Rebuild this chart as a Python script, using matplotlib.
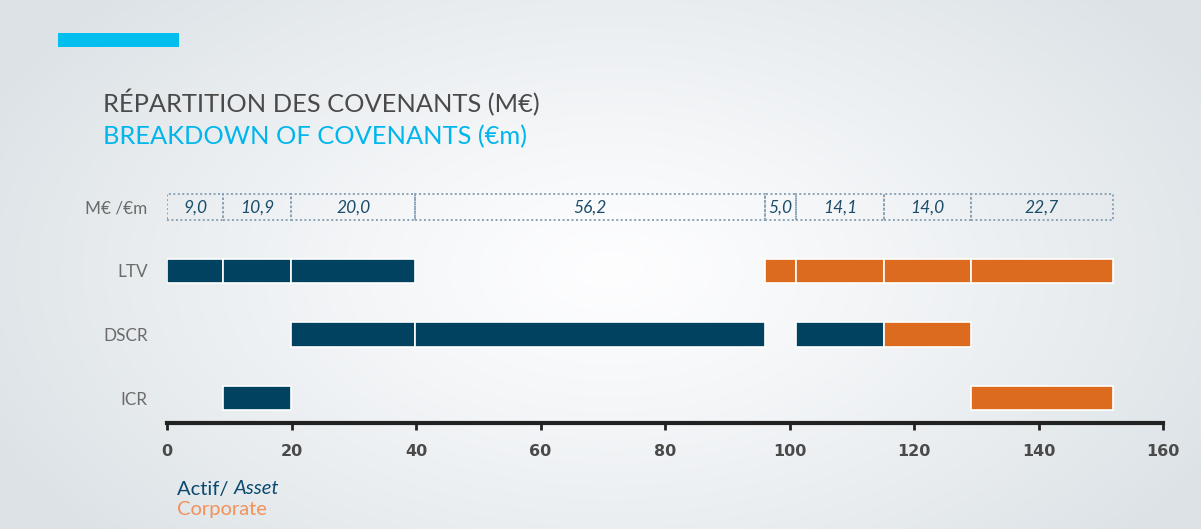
import matplotlib
matplotlib.use('Agg')
import matplotlib.pyplot as plt
import numpy as np

# segment sizes (M€) shown in the top dotted row
segments = [9.0, 10.9, 20.0, 56.2, 5.0, 14.1, 14.0, 22.7]
rows = ['ICR', 'DSCR', 'LTV']
# for each covenant: (segment index, category) ; 'A' = Actif/Asset, 'C' = Corporate
row_segments = {
    'LTV': [(0, 'A'), (1, 'A'), (2, 'A'), (4, 'C'), (5, 'C'), (6, 'C'), (7, 'C')],
    'DSCR': [(2, 'A'), (3, 'A'), (5, 'A'), (6, 'C')],
    'ICR': [(1, 'A'), (7, 'C')],
}
xticks = [0, 20, 40, 60, 80, 100, 120, 140, 160]

colors = {'A': '#00425f', 'C': '#dd6b1f'}
starts = np.concatenate([[0], np.cumsum(segments)[:-1]])

W, H = 1201, 529
fig = plt.figure(figsize=(W / 100, H / 100), dpi=100)

# background: light grey with a soft white glow in the middle
bg = fig.add_axes([0, 0, 1, 1], zorder=-10)
yy, xx = np.mgrid[0:H, 0:W]
d = np.sqrt(((xx - 610) / 680.0) ** 2 + ((yy - 270) / 400.0) ** 2)
t = np.clip(d, 0, 1) ** 1.2
c0 = np.array([0.995, 0.995, 1.0])
c1 = np.array([0.865, 0.89, 0.905])
img = c0[None, None, :] * (1 - t[..., None]) + c1[None, None, :] * t[..., None]
bg.imshow(img, extent=[0, W, H, 0], aspect='auto')
bg.set_xlim(0, W)
bg.set_ylim(H, 0)
bg.axis('off')

# cyan tag and titles
bg.add_patch(plt.Rectangle((58, 33), 121, 14, color='#00bfef', lw=0))
bg.text(103, 103, 'RÉPARTITION DES COVENANTS (M€)', color='#4a4a4a', fontsize=18.3,
        family='Lato', va='center', ha='left')
bg.text(103, 137, 'BREAKDOWN OF COVENANTS (€m)', color='#00b6ec', fontsize=18.3,
        family='Lato', va='center', ha='left')
# legend text
t1 = bg.text(177, 489, 'Actif/ ', color='#0b4a6e', fontsize=14.5, family='Lato', va='center')
bg.annotate('Asset', xycoords=t1, xy=(1, 0.5), va='center', color='#0b4a6e', fontsize=14.5,
            family='Lato', style='italic')
bg.text(177, 510, 'Corporate', color='#f3915a', fontsize=14.5, family='Lato', va='center')

ax = fig.add_axes([167 / W, 1 - 423 / H, (1163 - 167) / W, (423 - 169) / H])
ax.patch.set_alpha(0)
ax.set_xlim(0, 160)
ax.set_ylim(-0.39, 3.6)

bar_h = 0.38
for i, name in enumerate(rows):
    for seg, cat in row_segments[name]:
        ax.barh(i, segments[seg], left=starts[seg], height=bar_h, color=colors[cat],
                edgecolor='white', linewidth=1.2)

# dotted value boxes
for s, w in zip(starts, segments):
    ax.add_patch(plt.Rectangle((s, 3 - 0.2), w, 0.4, fill=False, edgecolor='#8aa2b6',
                               linestyle=(0, (1, 1.3)), linewidth=1.4))
    ax.text(s + w / 2, 3, ('%.1f' % w).replace('.', ','), ha='center', va='center',
            style='italic', color='#1b4d6b', fontsize=12.5, family='Lato')

ax.set_yticks([0, 1, 2, 3])
ax.set_yticklabels(rows + ['M€ /€m'])
ax.tick_params(axis='y', length=0, pad=14, labelcolor='#6b6b6b', labelsize=12.3)
for lab in ax.get_yticklabels():
    lab.set_family('Lato')

ax.set_xticks(xticks)
ax.tick_params(axis='x', direction='out', length=5, width=2, color='#222222', pad=10,
               labelsize=11.5, labelcolor='#4a4a4a')
for lab in ax.get_xticklabels():
    lab.set_fontweight('bold')
    lab.set_family('DejaVu Sans')

for sp in ['top', 'right', 'left']:
    ax.spines[sp].set_visible(False)
ax.spines['bottom'].set_linewidth(3)
ax.spines['bottom'].set_color('#222222')

plt.savefig('out.png', dpi=100)
